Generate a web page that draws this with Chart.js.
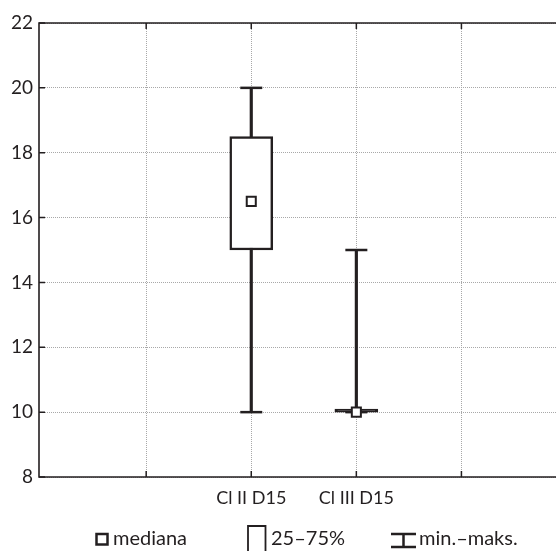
<!DOCTYPE html>
<html>
<head>
<meta charset="utf-8">
<script src="https://cdn.jsdelivr.net/npm/chart.js@4.4.1/dist/chart.umd.min.js"></script>
<style>
  html, body { margin: 0; padding: 0; background: #fff; overflow: hidden; }
  #wrap { width: 556px; height: 551px; }
</style>
</head>
<body>
<div id="wrap"><canvas id="chart"></canvas></div>
<script>
// axis slots (gridlines sit at 1..4, the two groups at 2 and 3)
const xLabels = ['', '', 'Cl II D15', 'Cl III D15', ''];
const categories = ['Cl II D15', 'Cl III D15'];
const mins = [10, 10];
const q1s = [15, 10];
const medians = [16.5, 10];
const q3s = [18.5, 10];
const maxs = [20, 15];
const yTicks = [8, 10, 12, 14, 16, 18, 20, 22];
const legendLabels = ['mediana', '25–75%', 'min.–maks.'];

const ink = '#231f20';
const font = 'Lato, "Open Sans", sans-serif';

const slotOf = c => xLabels.indexOf(c);
const points = arr => categories.map((c, i) => ({ x: slotOf(c), y: arr[i] }));
const ranges = (lo, hi) => categories.map((c, i) => ({ x: slotOf(c), y: [lo[i], hi[i]] }));

// frame + small inward tick marks
const framePlugin = {
    id: 'frame',
    beforeDatasetsDraw(chart) {
        const { ctx, chartArea: a, scales } = chart;
        ctx.save();
        ctx.strokeStyle = ink;
        ctx.lineWidth = 1.6;
        ctx.beginPath();
        ctx.moveTo(a.right + 2, a.top);
        ctx.lineTo(a.left, a.top);
        ctx.lineTo(a.left, a.bottom);
        ctx.lineTo(a.right + 2, a.bottom);
        ctx.stroke();
        ctx.lineWidth = 1.5;
        ctx.beginPath();
        scales.x.ticks.forEach(t => {
            const px = scales.x.getPixelForValue(t.value);
            ctx.moveTo(px, a.top); ctx.lineTo(px, a.top + 6);
            ctx.moveTo(px, a.bottom); ctx.lineTo(px, a.bottom - 6);
        });
        scales.y.ticks.forEach(t => {
            const py = scales.y.getPixelForValue(t.value);
            ctx.moveTo(a.left, py); ctx.lineTo(a.left + 6, py);
        });
        ctx.stroke();
        ctx.restore();
    }
};

// hand-drawn legend row under the axis
const legendPlugin = {
    id: 'boxLegend',
    afterDraw(chart) {
        const ctx = chart.ctx;
        const base = 545;
        ctx.save();
        ctx.fillStyle = ink;
        ctx.strokeStyle = ink;
        ctx.font = '20px ' + font;
        ctx.textBaseline = 'alphabetic';

        // median square
        ctx.lineWidth = 2.5;
        ctx.strokeRect(96.5, 534, 11, 10.5);
        ctx.fillText(legendLabels[0], 113, base);

        // 25-75% box, open at the bottom
        ctx.lineWidth = 1.8;
        ctx.beginPath();
        ctx.moveTo(248, 552);
        ctx.lineTo(248, 526);
        ctx.lineTo(265.5, 526);
        ctx.lineTo(265.5, 552);
        ctx.stroke();
        ctx.fillText(legendLabels[1], 271, base);

        // min-max whisker
        ctx.lineWidth = 2.5;
        ctx.beginPath();
        ctx.moveTo(391, 534); ctx.lineTo(416, 534);
        ctx.moveTo(403.5, 534); ctx.lineTo(403.5, 547);
        ctx.moveTo(391, 547); ctx.lineTo(416, 547);
        ctx.stroke();
        ctx.fillText(legendLabels[2], 419, base);
        ctx.restore();
    }
};

new Chart(document.getElementById('chart'), {
    type: 'scatter',
    data: {
        datasets: [
            {
                type: 'bar',
                label: 'whisker',
                data: ranges(mins, maxs),
                backgroundColor: ink,
                borderWidth: 0,
                barThickness: 2.5,
                grouped: false,
                order: 3
            },
            {
                type: 'bar',
                label: legendLabels[1],
                data: ranges(q1s, q3s),
                // a box with no spread collapses to a solid bar
                backgroundColor: c => (q1s[c.dataIndex] === q3s[c.dataIndex] ? ink : '#fff'),
                borderColor: ink,
                borderWidth: 2.5,
                borderSkipped: false,
                barThickness: 43,
                minBarLength: 3,
                grouped: false,
                order: 2
            },
            {
                label: legendLabels[2],
                data: points(mins).concat(points(maxs)),
                pointStyle: 'line',
                radius: 11,
                hoverRadius: 11,
                borderColor: ink,
                borderWidth: 2.5,
                order: 1
            },
            {
                label: legendLabels[0],
                data: points(medians),
                pointStyle: 'rect',
                radius: 6.4,
                hoverRadius: 6.4,
                backgroundColor: '#fff',
                borderColor: ink,
                borderWidth: 2,
                order: 0
            }
        ]
    },
    options: {
        responsive: true,
        maintainAspectRatio: false,
        animation: false,
        layout: { autoPadding: false, padding: { top: 23, right: 0, left: 0, bottom: 0 } },
        plugins: {
            legend: { display: false },
            tooltip: { enabled: false }
        },
        scales: {
            x: {
                type: 'linear',
                min: -0.02,
                max: 4.9,
                offset: false,
                afterBuildTicks: s => { s.ticks = [1, 2, 3, 4].map(v => ({ value: v })); },
                afterFit: s => { s.height = 74; },
                ticks: {
                    callback: v => xLabels[v] || '',
                    autoSkip: false,
                    maxRotation: 0,
                    padding: 10,
                    color: ink,
                    font: { family: font, size: 18 }
                },
                grid: { offset: false, drawTicks: false, color: '#a8a8a8', lineWidth: 1 },
                border: { display: false, dash: [1, 1] }
            },
            y: {
                min: 8,
                max: 22,
                afterBuildTicks: s => { s.ticks = yTicks.map(v => ({ value: v })); },
                afterFit: s => { s.width = 39; },
                ticks: {
                    padding: 6,
                    color: ink,
                    font: { family: font, size: 19 }
                },
                grid: { drawTicks: false, color: '#a8a8a8', lineWidth: 1 },
                border: { display: false, dash: [1, 1] }
            }
        }
    },
    plugins: [framePlugin, legendPlugin]
});
</script>
</body>
</html>
